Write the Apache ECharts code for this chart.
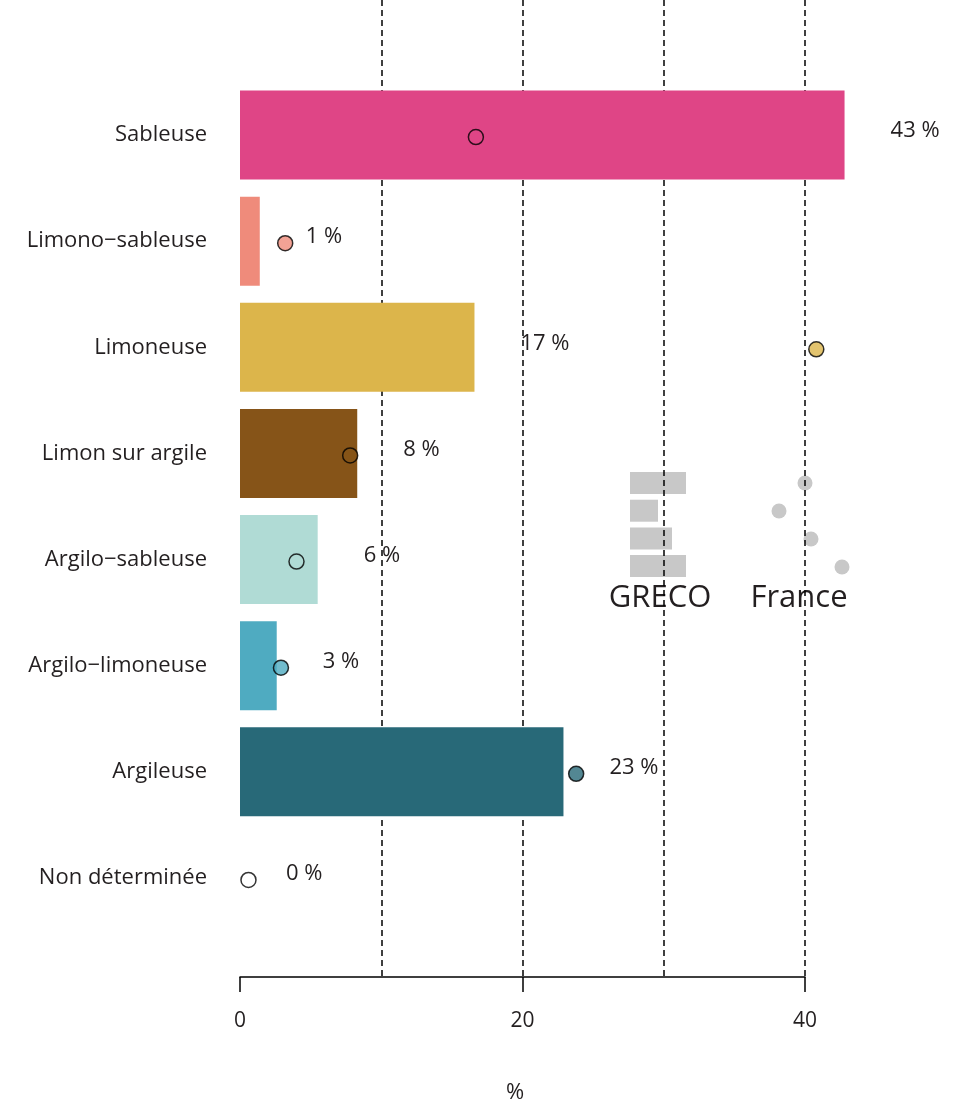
<!DOCTYPE html>
<html>
<head>
<meta charset="utf-8">
<script src="https://cdn.jsdelivr.net/npm/echarts@6/dist/echarts.min.js"></script>
<style>
html,body{margin:0;padding:0;background:#fff;}
#chart{width:962px;height:1105px;}
</style>
</head>
<body>
<div id="chart"></div>
<script>
const categories = ['Sableuse', 'Limono\u2212sableuse', 'Limoneuse', 'Limon sur argile', 'Argilo\u2212sableuse', 'Argilo\u2212limoneuse', 'Argileuse', 'Non déterminée'];
const grecoValues = [42.8, 1.4, 16.6, 8.3, 5.5, 2.6, 22.9, 0];
const franceValues = [16.7, 3.2, 40.8, 7.8, 4.0, 2.9, 23.8, 0.6];
const colors = ['#DF4586', '#EF8B7B', '#DCB54B', '#865418', '#B0DBD5', '#4FABC1', '#286978', '#FFFFFF'];
const axisTicks = [0, 20, 40];
const guideLines = [10, 20, 30, 40];
const legendGreco = [4, 2, 3, 4];

const FONT = '"Open Sans", "Noto Sans", sans-serif';
const TXT = '#231F20';
const unitPx = 565 / 40;

const chart = echarts.init(document.getElementById('chart'), null, {renderer: 'canvas'});

const option = {
  backgroundColor: '#fff',
  animation: false,
  textStyle: {fontFamily: FONT},
  grid: [
    {left: 240, top: 0, width: 565, height: 977},
    {left: 240, top: 82, width: 50 * unitPx, height: 849}
  ],
  xAxis: [
    {
      type: 'value', gridIndex: 0, min: 0, max: 40, interval: 20, position: 'bottom',
      axisLine: {show: true, lineStyle: {color: '#000', width: 1.5}},
      axisTick: {show: true, length: 15, lineStyle: {color: '#000', width: 1.5}},
      axisLabel: {show: true, margin: 34, fontSize: 21, color: TXT, fontFamily: FONT},
      splitLine: {show: false}
    },
    {
      type: 'value', gridIndex: 0, min: 0, max: 40, interval: 10, position: 'top',
      axisLine: {show: false}, axisTick: {show: false}, axisLabel: {show: false},
      splitLine: {show: true, showMinLine: false, lineStyle: {color: '#000', width: 1.5, type: [6, 4]}}
    },
    {
      type: 'value', gridIndex: 1, min: 0, max: 50,
      axisLine: {show: false}, axisTick: {show: false}, axisLabel: {show: false}, splitLine: {show: false}
    }
  ],
  yAxis: [
    {type: 'value', gridIndex: 0, show: false, min: 0, max: 1, splitLine: {show: false}},
    {
      type: 'category', gridIndex: 1, data: categories, inverse: true,
      axisLine: {show: false}, axisTick: {show: false},
      axisLabel: {margin: 33, fontSize: 22, color: TXT, fontFamily: FONT, padding: [6, 0, 0, 0]}
    }
  ],
  series: [
    {
      type: 'bar', xAxisIndex: 2, yAxisIndex: 1, barWidth: 89, clip: false,
      data: grecoValues.map((v, i) => ({value: v, itemStyle: {color: colors[i]}})),
      label: {
        show: true, position: 'right', distance: 46, offset: [0, -4],
        fontSize: 22, color: TXT, fontFamily: FONT,
        formatter: p => Math.round(p.value) + ' %'
      }
    },
    {
      type: 'scatter', xAxisIndex: 2, yAxisIndex: 1, symbol: 'circle', symbolSize: 15, z: 5,
      symbolOffset: [0, 2],
      data: franceValues.map((v, i) => ({
        value: [v, categories[i]],
        itemStyle: {color: colors[i], borderColor: '#000', borderWidth: 1.5}
      }))
    }
  ],
  graphic: [
    ...legendGreco.map((w, i) => ({
      type: 'rect', shape: {x: 630, y: 472 + i * 27.7, width: w * 14, height: 22},
      style: {fill: '#C8C8C8'}
    })),
    ...[[805, 483], [779, 511], [811, 539], [842, 567]].map(c => ({
      type: 'circle', shape: {cx: c[0], cy: c[1], r: 7.5}, style: {fill: '#C8C8C8'}
    })),
    {type: 'text', style: {text: 'GRECO', x: 660, y: 598, fontSize: 31, fill: TXT, fontFamily: FONT, textAlign: 'center', textVerticalAlign: 'middle'}},
    {type: 'text', style: {text: 'France', x: 799, y: 598, fontSize: 31, fill: TXT, fontFamily: FONT, textAlign: 'center', textVerticalAlign: 'middle'}},
    {type: 'text', style: {text: '%', x: 515, y: 1093, fontSize: 22, fill: TXT, fontFamily: FONT, textAlign: 'center', textVerticalAlign: 'middle'}}
  ]
};
chart.setOption(option);
</script>
</body>
</html>
